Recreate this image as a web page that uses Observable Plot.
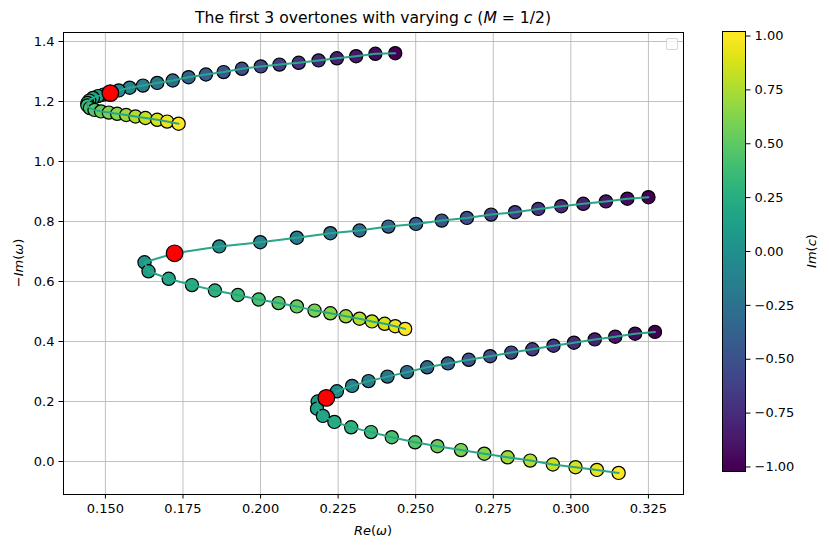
<!DOCTYPE html>
<html><head><meta charset="utf-8">
<script src="https://cdn.jsdelivr.net/npm/d3@7"></script>
<script src="https://cdn.jsdelivr.net/npm/@observablehq/plot@0.6"></script>
<style>
body{margin:0;background:#fff;font-family:"DejaVu Sans",sans-serif;color:#000;}
#wrap{position:relative;width:829px;height:549px;overflow:hidden;}
#wrap svg{position:absolute;top:0;}
.lbl{position:absolute;white-space:nowrap;font-family:"DejaVu Sans",sans-serif;color:#000;}
</style></head><body><div id="wrap"></div>
<script>
// Im(c) for each of the 35 points along every overtone
const imC = [-1.000,-0.941,-0.882,-0.824,-0.765,-0.706,-0.647,-0.588,-0.529,-0.471,-0.412,-0.353,-0.294,-0.235,-0.176,-0.118,-0.059,0.000,
             0.059,0.118,0.176,0.235,0.294,0.353,0.412,0.471,0.529,0.588,0.647,0.706,0.765,0.824,0.882,0.941,1.000];
// overtone 1 (top)
const re1 = [0.2434,0.2370,0.2308,0.2246,0.2187,0.2123,0.2061,0.2001,0.1940,0.1881,0.1824,0.1768,0.1717,0.1667,0.1621,0.1578,0.1543,0.1516,
             0.1494,0.1476,0.1460,0.1448,0.1442,0.1442,0.1450,0.1465,0.1486,0.1511,0.1538,0.1567,0.1597,0.1629,0.1667,0.1699,0.1736];
const im1 = [1.361,1.359,1.351,1.344,1.337,1.329,1.323,1.317,1.309,1.298,1.290,1.281,1.270,1.262,1.253,1.246,1.237,1.228,
             1.223,1.218,1.212,1.203,1.195,1.187,1.178,1.172,1.167,1.163,1.159,1.155,1.150,1.145,1.139,1.133,1.126];
// overtone 2 (middle)
const re2 = [0.3250,0.3182,0.3113,0.3040,0.2969,0.2895,0.2820,0.2743,0.2665,0.2584,0.2501,0.2412,0.2319,0.2225,0.2117,0.1999,0.1867,0.1723,
             0.1626,0.1639,0.1704,0.1779,0.1853,0.1927,0.1994,0.2058,0.2117,0.2174,0.2225,0.2275,0.2319,0.2359,0.2400,0.2434,0.2466];
const im2 = [0.881,0.876,0.867,0.859,0.851,0.842,0.831,0.823,0.812,0.803,0.792,0.783,0.770,0.761,0.746,0.731,0.717,0.694,
             0.664,0.634,0.609,0.588,0.570,0.555,0.540,0.528,0.517,0.503,0.494,0.484,0.476,0.467,0.459,0.451,0.442];
// overtone 3 (bottom)
const re3 = [0.3271,0.3207,0.3143,0.3077,0.3010,0.2944,0.2876,0.2808,0.2740,0.2671,0.2604,0.2537,0.2472,0.2409,0.2348,0.2295,0.2246,0.2212,
             0.2184,0.2182,0.2201,0.2238,0.2292,0.2356,0.2423,0.2498,0.2570,0.2646,0.2721,0.2796,0.2869,0.2942,0.3015,0.3084,0.3154];
const im3 = [0.432,0.426,0.416,0.407,0.396,0.386,0.374,0.363,0.351,0.339,0.327,0.314,0.298,0.283,0.268,0.252,0.234,0.212,
             0.200,0.176,0.152,0.132,0.114,0.098,0.081,0.064,0.051,0.038,0.026,0.014,0.003,-0.010,-0.019,-0.028,-0.038];
// real c (Im(c) = 0) points, highlighted in red
const realIndex = 17;

const xTicks = [0.150,0.175,0.200,0.225,0.250,0.275,0.300,0.325];
const yTicks = [0.0,0.2,0.4,0.6,0.8,1.0,1.2,1.4];
const cTicks = [-1.00,-0.75,-0.50,-0.25,0.00,0.25,0.50,0.75,1.00];
const cLimits = [-1.021, 1.021];

const series = [[re1,im1],[re2,im2],[re3,im3]];
const rows = [];
series.forEach(([re,im],s)=>re.forEach((r,i)=>rows.push({s, re:r, im:im[i], c:imC[i]})));
const redRows = series.map(([re,im],s)=>({s, re:re[realIndex], im:im[realIndex]}));

const fmt = n => d => (d<0?"\u2212":"") + Math.abs(d).toFixed(n);
const colorOpt = {type:"linear", scheme:"viridis", domain:[-1,1], clamp:true};
const grid = {stroke:"#b0b0b0", strokeOpacity:1, strokeWidth:0.8};

const main = Plot.plot({
  width:829, height:549,
  marginLeft:63, marginRight:146, marginTop:32, marginBottom:55,
  style:{fontFamily:"DejaVu Sans", fontSize:"13px", background:"transparent", color:"black"},
  x:{domain:[0.1365,0.3363], ticks:xTicks, tickFormat:fmt(3), tickSize:4.5, tickPadding:4.5, label:null},
  y:{domain:[-0.11,1.43], ticks:yTicks, tickFormat:fmt(1), tickSize:4.5, tickPadding:4.5, label:null},
  color:colorOpt,
  marks:[
    Plot.gridX(xTicks, grid),
    Plot.gridY(yTicks, grid),
    Plot.dot(rows,{x:"re", y:"im", fill:"c", r:6.6, stroke:"black", strokeWidth:1.2}),
    Plot.line(rows,{x:"re", y:"im", z:"s", stroke:"#29a587", strokeWidth:2}),
    Plot.dot(redRows,{x:"re", y:"im", r:8.3, fill:"red", stroke:"black", strokeWidth:1.2}),
    Plot.frame({stroke:"black", strokeWidth:1})
  ]
});
main.style.left = "0px";

const steps = d3.range(cLimits[0], cLimits[1], 0.005).map(v=>({v0:v, v1:Math.min(cLimits[1], v+0.012), vc:v+0.0025}));
const bar = Plot.plot({
  width:129, height:549,
  marginLeft:22, marginRight:84, marginTop:31, marginBottom:78,
  style:{fontFamily:"DejaVu Sans", fontSize:"13px", background:"transparent", color:"black"},
  x:{domain:[0,1], axis:null},
  y:{domain:cLimits, axis:"right", ticks:cTicks, tickFormat:fmt(2), tickSize:4.5, tickPadding:4.5, label:null},
  color:colorOpt,
  marks:[
    Plot.rect(steps,{x1:0, x2:1, y1:"v0", y2:"v1", fill:"vc", shapeRendering:"crispEdges"}),
    Plot.frame({stroke:"black", strokeWidth:1})
  ]
});
bar.style.left = "700px";

const wrap = document.getElementById("wrap");
wrap.appendChild(main);
wrap.appendChild(bar);

function label(html, css){
  const d = document.createElement("div");
  d.className = "lbl"; d.innerHTML = html;
  Object.assign(d.style, css);
  wrap.appendChild(d);
}
label('The first 3 overtones with varying <i>c</i> (<i>M</i> = 1/2)',
      {left:"373px", top:"9px", fontSize:"15.6px", transform:"translateX(-50%)"});
label('<i>Re</i>(<i>ω</i>)', {left:"373px", top:"523px", fontSize:"13px", transform:"translateX(-50%)"});
label('\u2212<i>Im</i>(<i>ω</i>)', {left:"18px", top:"263px", fontSize:"13px", transform:"translate(-50%,-50%) rotate(-90deg)"});
label('<i>Im</i>(<i>c</i>)', {left:"811px", top:"251px", fontSize:"13px", transform:"translate(-50%,-50%) rotate(-90deg)"});
// empty legend box
const lg = document.createElement("div");
Object.assign(lg.style,{position:"absolute", left:"666px", top:"38px", width:"10px", height:"10px",
  border:"1px solid #d5d5d5", borderRadius:"2px", background:"rgba(255,255,255,0.8)"});
wrap.appendChild(lg);
</script>
</body></html>
